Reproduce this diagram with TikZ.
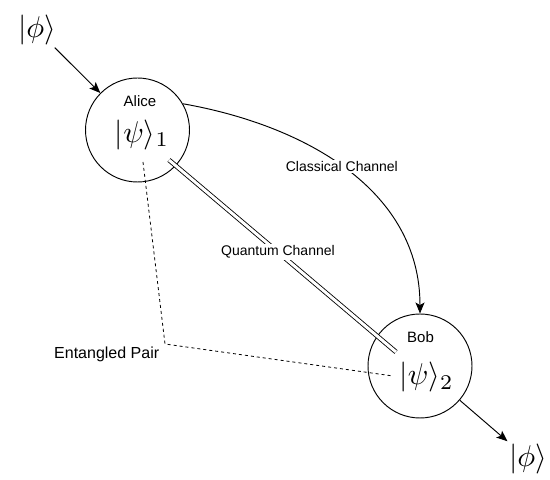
\documentclass[tikz,border=0pt]{standalone}
\usepackage{fontspec}
\newfontfamily\helv{Liberation Sans}
\usetikzlibrary{arrows.meta}
\begin{document}
\begin{tikzpicture}[x=1pt,y=1pt,
  party/.style={circle,draw,line width=0.95pt,minimum size=104pt,inner sep=0pt},
  ket/.style={scale=3,inner sep=0.7pt},
  pname/.style={font=\helv\fontsize{15}{17}\selectfont,inner sep=0pt},
  chlabel/.style={font=\helv\fontsize{14}{16}\selectfont,fill=white,inner sep=1.5pt},
  conn/.style={line width=0.95pt},
  tipped/.style={-{Stealth[length=11pt,width=9pt,inset=2.5pt]}},
  entangle/.style={line width=0.8pt,dash pattern=on 3pt off 3pt},
  quantum/.style={line width=0.85pt,double,double distance=3pt}
]
\useasboundingbox (0,0) rectangle (550,480);
\node[party] (alice) at (137.5,350) {};
\node[party] (bob) at (420,114) {};
\node[pname] (alicename) at (140,379) {Alice};
\node[pname] (bobname) at (420.5,142.5) {Bob};
\node[ket] (psi1) at (142,345) {$|\psi\rangle_1$};
\node[ket] (psi2) at (426.5,102.5) {$|\psi\rangle_2$};
\node[ket] (phi1) at (37,450) {$|\phi\rangle$};
\node[ket] (phi2) at (528,21) {$|\phi\rangle$};
\node[font=\helv\fontsize{16}{18}\selectfont,inner sep=0pt] (entlabel) at (106.7,125.5) {Entangled Pair};
\coordinate (qa) at (169,320);
\coordinate (qb) at (396,128);
\coordinate (entA) at (143,318);
\coordinate (entC) at (165,136);
\coordinate (entB) at (393,104);
\draw[conn,tipped] (phi1) -- (alice);
\draw[conn,tipped] (bob) -- (phi2);
\draw[conn,tipped] (alice.30) to[out=-10,in=90] node[chlabel,pos=0.48] (classical) {Classical Channel} (bob.north);
\draw[quantum] (qa) -- node[chlabel,pos=0.48] (quantumlabel) {Quantum Channel} (qb);
\draw[entangle] (entA) -- (entC) -- (entB);
\end{tikzpicture}
\end{document}
